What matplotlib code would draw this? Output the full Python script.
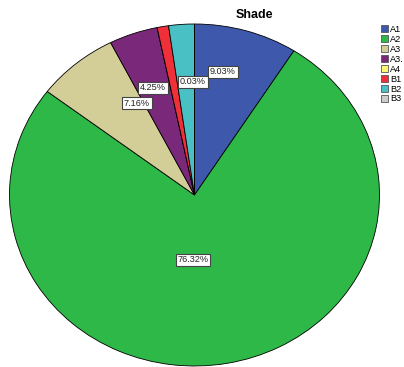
import matplotlib
matplotlib.use("Agg")
import matplotlib.pyplot as plt
import numpy as np

categories = ["A1", "A2", "A3", "A3.", "A4", "B1", "B2", "B3"]
values = [9.03, 76.32, 7.16, 4.25, 0.0, 1.0, 2.24, 0.0]
label_texts = ["9.03%", "76.32%", "7.16%", "4.25%", "", "", "0.03%", ""]
colors = ["#3E58AC", "#2EB848", "#D3CE97", "#7A287A", "#FBF873", "#EF3038", "#48C0C4", "#CCCCCC"]
title = "Shade"

plt.rcParams['font.family'] = ['Liberation Sans', 'DejaVu Sans']

W, H = 404, 367
fig = plt.figure(figsize=(W / 100, H / 100), dpi=100)

# pie axes spans the ellipse bounding box
cx, cy, rx, ry = 194.5, 195.0, 185.0, 171.0
ax = fig.add_axes([(cx - rx) / W, (H - cy - ry) / H, 2 * rx / W, 2 * ry / H])

wedges, _ = ax.pie(values, colors=colors, startangle=90, counterclock=False,
                   wedgeprops=dict(edgecolor="black", linewidth=0.6))
ax.set_aspect('auto')
ax.set_xlim(-1, 1)
ax.set_ylim(-1, 1)
ax.axis('off')

# label placement (pixel centres in figure)
label_pos = {0: (223, 72), 1: (193, 260), 2: (137, 103), 3: (153, 88), 6: (193, 82)}
for i, txt in enumerate(label_texts):
    if not txt:
        continue
    px, py = label_pos[i]
    fig.text(px / W, 1 - py / H, txt, ha='center', va='center', fontsize=6.6,
             color='#222222',
             bbox=dict(boxstyle='square,pad=0.2', facecolor='white', edgecolor='#444444', linewidth=0.8))

fig.text(254 / W, 1 - 15 / H, title, ha='center', va='center', fontsize=9, fontweight='bold')

handles = [plt.Rectangle((0, 0), 1, 1, facecolor=c, edgecolor='#555555', linewidth=0.6) for c in colors]
fig.legend(handles, categories, loc='upper left', bbox_to_anchor=(380.5 / W, 1 - 25 / H),
           frameon=False, fontsize=6.6, handlelength=0.78, handleheight=0.78,
           labelspacing=0.1, handletextpad=0.25, borderpad=0, borderaxespad=0)

fig.savefig("out.png", dpi=100)
